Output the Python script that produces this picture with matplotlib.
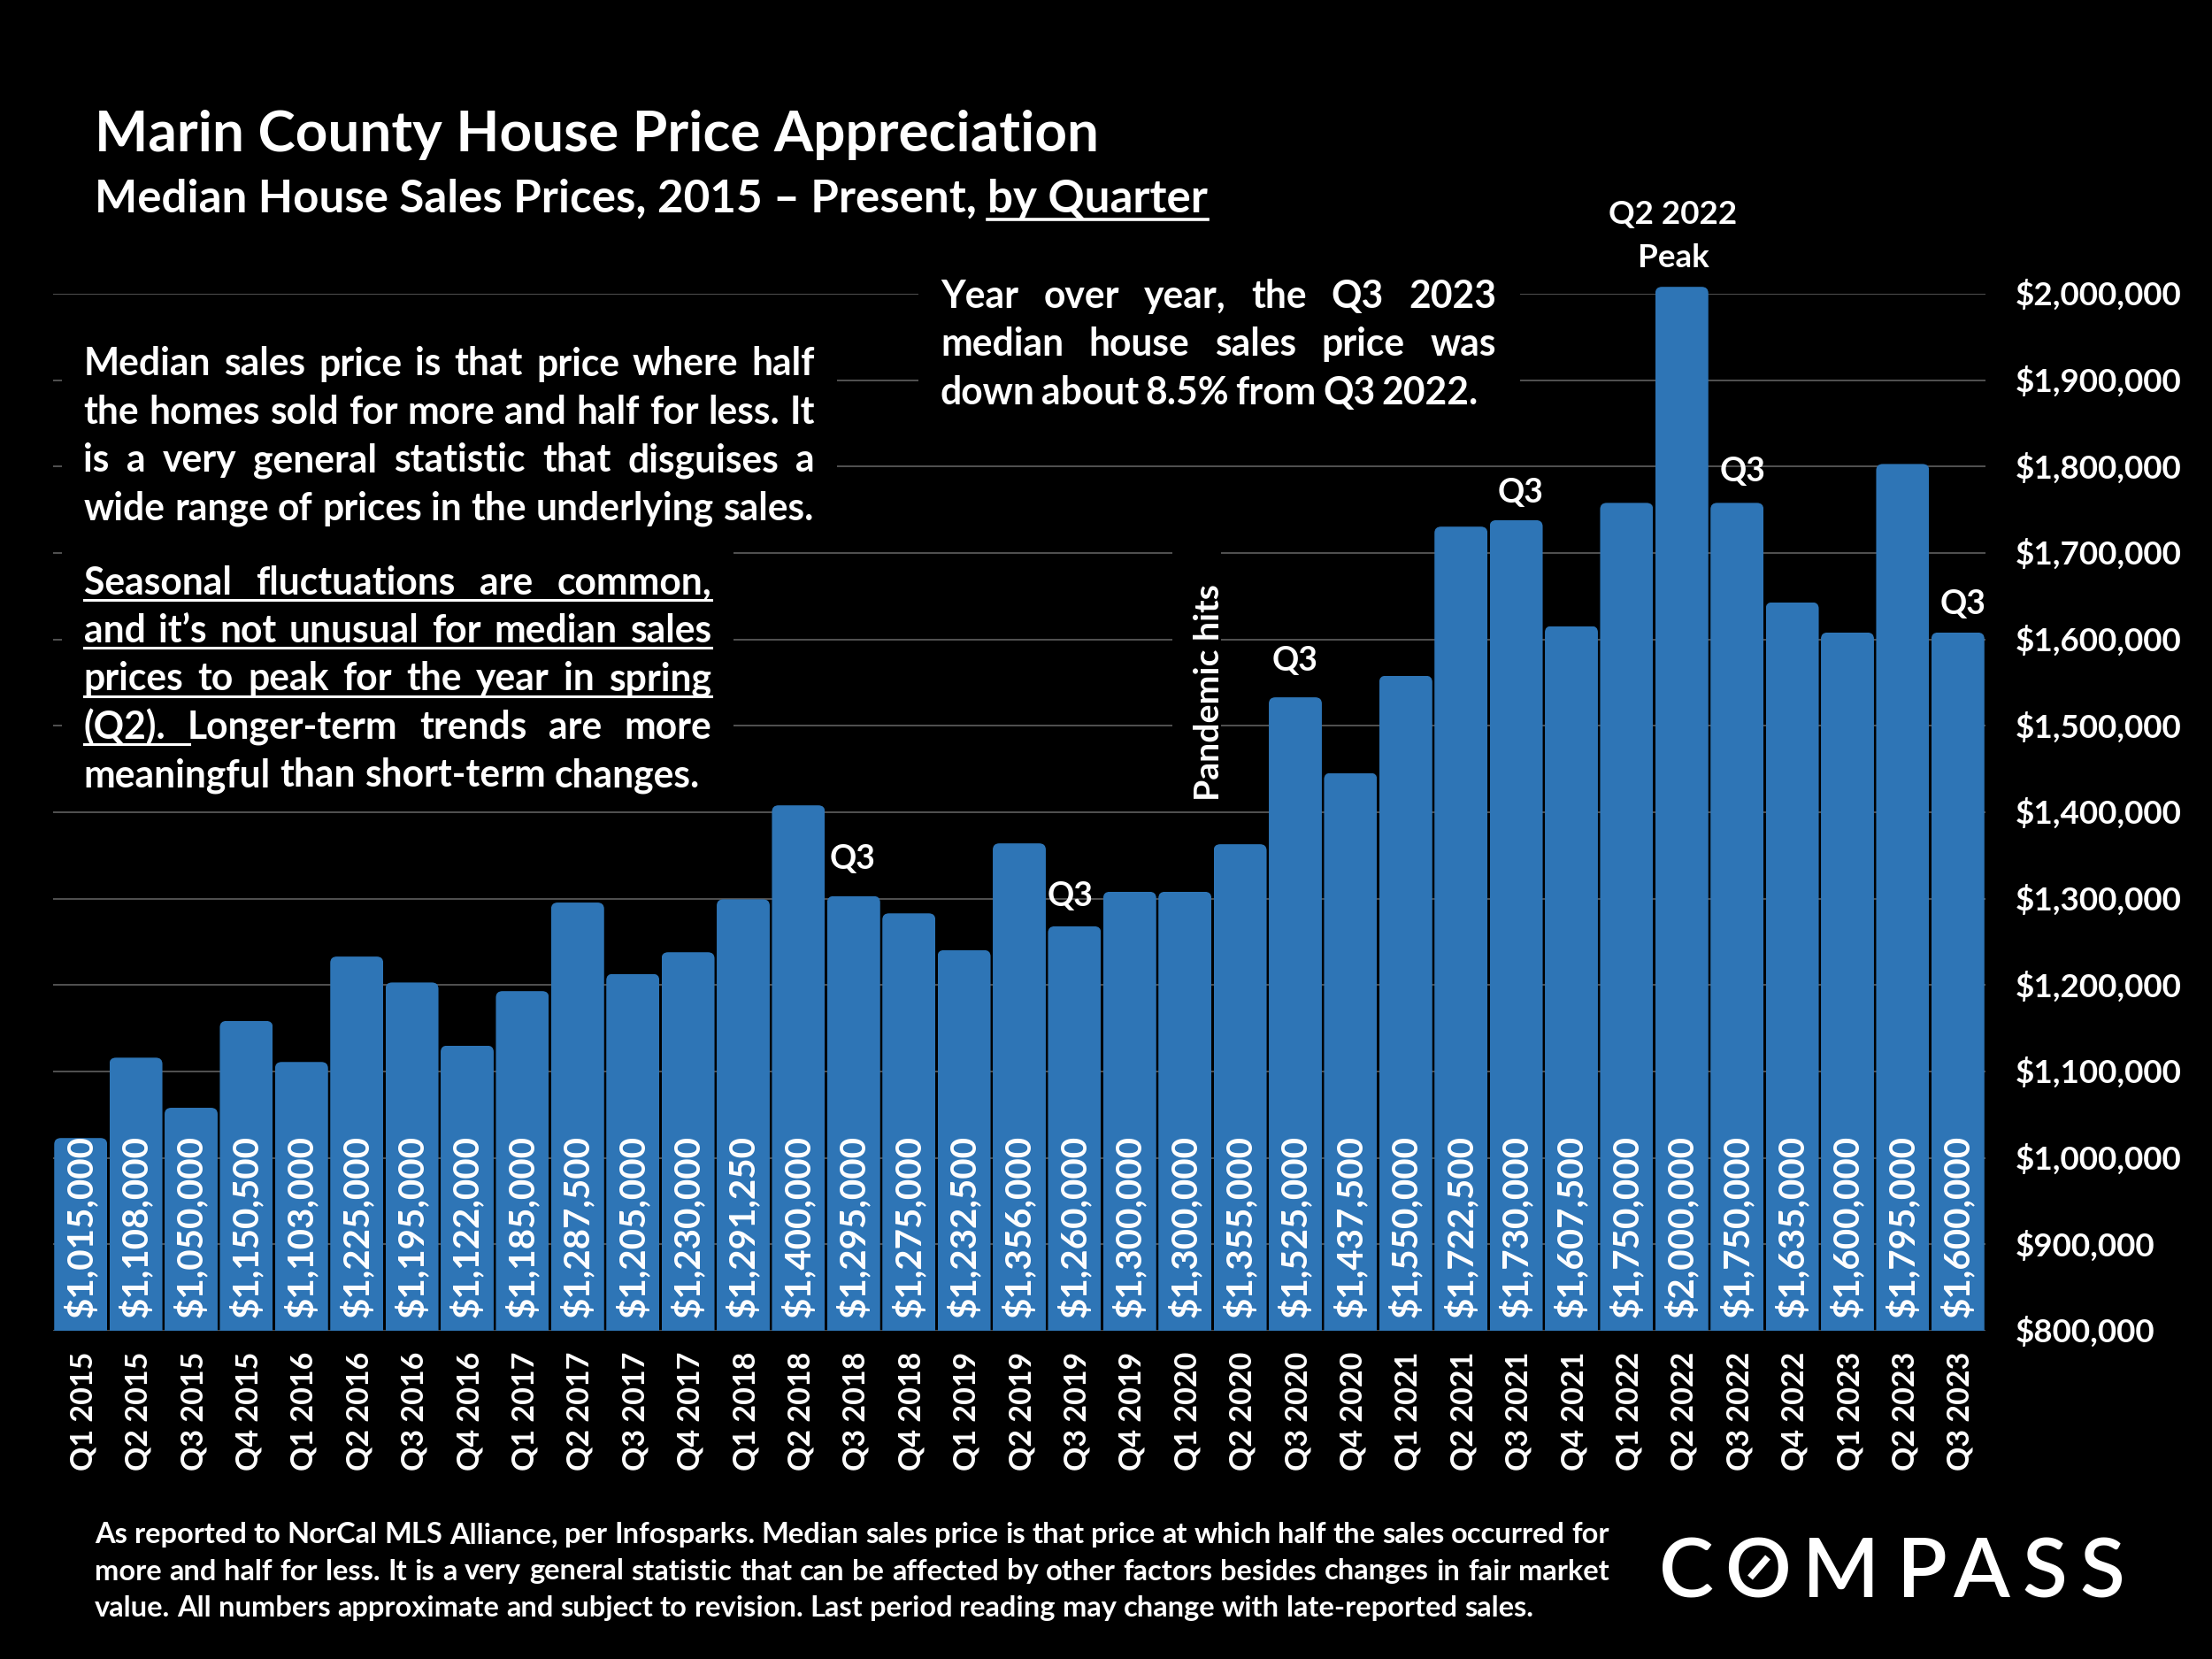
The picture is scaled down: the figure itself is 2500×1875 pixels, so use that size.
import matplotlib
matplotlib.use('Agg')
import numpy as np
import matplotlib.pyplot as plt
from matplotlib.patches import FancyBboxPatch, Rectangle
from matplotlib.transforms import Affine2D

plt.rcParams['font.family'] = ['Lato', 'DejaVu Sans']
plt.rcParams['font.weight'] = 'bold'

quarters = ['Q1 2015', 'Q2 2015', 'Q3 2015', 'Q4 2015', 'Q1 2016', 'Q2 2016', 'Q3 2016',
            'Q4 2016', 'Q1 2017', 'Q2 2017', 'Q3 2017', 'Q4 2017', 'Q1 2018', 'Q2 2018',
            'Q3 2018', 'Q4 2018', 'Q1 2019', 'Q2 2019', 'Q3 2019', 'Q4 2019', 'Q1 2020',
            'Q2 2020', 'Q3 2020', 'Q4 2020', 'Q1 2021', 'Q2 2021', 'Q3 2021', 'Q4 2021',
            'Q1 2022', 'Q2 2022', 'Q3 2022', 'Q4 2022', 'Q1 2023', 'Q2 2023', 'Q3 2023']
prices = [1015000, 1108000, 1050000, 1150500, 1103000, 1225000, 1195000,
          1122000, 1185000, 1287500, 1205000, 1230000, 1291250, 1400000,
          1295000, 1275000, 1232500, 1356000, 1260000, 1300000, 1300000,
          1355000, 1525000, 1437500, 1550000, 1722500, 1730000, 1607500,
          1750000, 2000000, 1750000, 1635000, 1600000, 1795000, 1600000]
y_ticks = list(range(800000, 2000001, 100000))
q3_notes = ['Q3 2018', 'Q3 2019', 'Q3 2020', 'Q3 2021', 'Q3 2022', 'Q3 2023']
q3_gaps = [50, 42, 49, 39, 43, 40]  # px above the bar
q3_dx = [-1, -5, 0, 5, 6, 6]

BLUE = '#2E75B6'
GRID = '#606060'
W, H = 2500, 1875

fig = plt.figure(figsize=(25, 18.75), dpi=100, facecolor='black')
x0, x1, y_bot, y_top = 60, 2244, 1504, 332
ax = fig.add_axes([x0 / W, 1 - y_bot / H, (x1 - x0) / W, (y_bot - y_top) / H], facecolor='black')
ax.set_xlim(-0.5, len(prices) - 0.5)
ax.set_ylim(800000, 2000000)
ax.set_axisbelow(True)
for s in ax.spines.values():
    s.set_visible(False)

# pixel coords of the slide, y going down
px = Affine2D().scale(1 / W, -1 / H).translate(0, 1) + fig.transFigure

# bars sit a few pixels above the gridlines in the original
overshoot = 8000
x_pos = np.arange(len(prices))
bars = ax.bar(x_pos, np.array(prices) - 800000 + overshoot, bottom=800000, width=0.96, color=BLUE, zorder=2)
for b in bars:
    clip = FancyBboxPatch((b.get_x(), b.get_y() - 100000), b.get_width(), b.get_height() + 100000,
                          boxstyle='round,pad=0,rounding_size=0.12', mutation_aspect=61000,
                          transform=ax.transData)
    b.set_clip_box(None)
    b.set_clip_path(clip)

ax.yaxis.tick_right()
ax.set_yticks(y_ticks)
ax.set_yticklabels(['${:,}'.format(v) for v in y_ticks], fontsize=26.5, color='white')
ax.set_xticks(x_pos)
ax.set_xticklabels(quarters, rotation=90, fontsize=24.5, color='white')
ax.tick_params(axis='x', length=0, pad=17)
ax.tick_params(axis='y', length=0, pad=24)
ax.grid(axis='y', color=GRID, linewidth=1.2)
for lab in ax.get_xticklabels():
    lab.set_transform(lab.get_transform() + Affine2D().translate(3, 0))
for lab in ax.get_yticklabels():
    lab.set_transform(lab.get_transform() + Affine2D().translate(0, 1.5))

for i, v in enumerate(prices):
    ax.text(i, 815000, '${:,}'.format(v), rotation=90, ha='center', va='bottom',
            color='white', fontsize=29, zorder=3)

# black boxes behind the text, they cut the gridlines
for bx0, by0, bx1, by1 in [(70, 385, 946, 600), (70, 600, 829, 910), (1038, 290, 1718, 470),
                           (1325, 610, 1380, 910)]:
    ax.add_patch(Rectangle((bx0, by0), bx1 - bx0, by1 - by0, transform=px, facecolor='black',
                           edgecolor='none', clip_on=False, zorder=1))


def word_line(line, xa, y, size, xb=None):
    # justified when xb is given, one word at a time
    words = line.split()
    r = fig.canvas.get_renderer()
    arts = [ax.text(xa, y, w, transform=px, fontsize=size, color='white', va='baseline',
                    ha='left', clip_on=False, zorder=4) for w in words]
    widths = [a.get_window_extent(r).width for a in arts]
    sp = ax.text(0, 0, 'a a', fontsize=size, transform=px)
    sp2 = ax.text(0, 0, 'aa', fontsize=size, transform=px)
    gap = sp.get_window_extent(r).width - sp2.get_window_extent(r).width
    sp.remove()
    sp2.remove()
    if xb is not None and len(words) > 1:
        gap = (xb - xa - sum(widths)) / (len(words) - 1)
    x = xa
    for a, w in zip(arts, widths):
        a.set_x(x)
        x += w + gap


def underline(xa, xb, y, lw=2.2):
    ax.plot([xa, xb], [y, y], color='white', lw=lw, transform=px, clip_on=False, zorder=4,
            scalex=False, scaley=False)


# title block
ax.text(107, 171, 'Marin County House Price Appreciation', transform=px, fontsize=46, color='white',
        va='baseline', clip_on=False)
ax.text(107, 240, 'Median House Sales Prices, 2015 \u2013 Present,', transform=px, fontsize=36.8, color='white',
        va='baseline', clip_on=False)
ax.text(1116, 240, 'by Quarter', transform=px, fontsize=36.8, color='white', va='baseline', clip_on=False)
underline(1116, 1365, 248, 2.6)

# left text boxes
SZ = 30.7
para1 = [('Median sales price is that price where half', True),
         ('the homes sold for more and half for less. It', True),
         ('is a very general statistic that disguises a', True),
         ('wide range of prices in the underlying sales.', False)]
for k, (t, just) in enumerate(para1):
    word_line(t, 94.5, 424.5 + 54.4 * k, SZ, xb=921 if just else None)

para2 = [('Seasonal fluctuations are common,', True),
         ('and it\u2019s not unusual for median sales', True),
         ('prices to peak for the year in spring', True),
         ('(Q2). Longer-term trends are more', True),
         ('meaningful than short-term changes.', False)]
for k, (t, just) in enumerate(para2):
    word_line(t, 94.5, 671.5 + 54.4 * k, SZ, xb=804 if just else None)
for k in range(3):
    underline(95, 804, 678 + 54.4 * k)
underline(95, 214, 841)

yoy = ['Year over year, the Q3 2023', 'median house sales price was', 'down about 8.5% from Q3 2022.']
yoy_right = [1691, 1691, 1671]
for k, (t, xr) in enumerate(zip(yoy, yoy_right)):
    word_line(t, 1063, 348 + 54.4 * k, SZ, xb=xr)

# annotations over the bars
for q, gap, dx in zip(q3_notes, q3_gaps, q3_dx):
    i = quarters.index(q)
    ax.annotate('Q3', xy=(i, prices[i]), xytext=(dx, gap), textcoords='offset pixels', ha='center',
                va='center', color='white', fontsize=27, annotation_clip=False, zorder=4)
ax.text(1891, 243, 'Q2 2022', transform=px, ha='center', va='center', color='white', fontsize=26.5, clip_on=False)
ax.text(1891, 292, 'Peak', transform=px, ha='center', va='center', color='white', fontsize=26.5, clip_on=False)
ax.text(1366, 783, 'Pandemic hits', transform=px, rotation=90, ha='center', va='center', color='white',
        fontsize=28.3, clip_on=False, zorder=4)

# footnote
foot = [('As reported to NorCal MLS Alliance, per Infosparks. Median sales price is that price at which half the sales occurred for', True),
        ('more and half for less. It is a very general statistic that can be affected by other factors besides changes in fair market', True),
        ('value. All numbers approximate and subject to revision. Last period reading may change with late-reported sales.', False)]
for k, (t, just) in enumerate(foot):
    word_line(t, 107, 1744 + 41.5 * k, 23.5, xb=1819 if just else None)

# logo
logo_letters = 'COMPASS'
logo_x = [1906, 1987, 2081, 2172, 2239, 2311, 2376]
for ch, lx in zip(logo_letters, logo_x):
    ax.text(lx, 1805, ch, transform=px, ha='center', va='baseline', color='white', fontsize=67,
            fontweight='semibold', clip_on=False)
ax.plot([1978, 1998], [1783, 1760], color='white', lw=5.5, transform=px, clip_on=False, zorder=4,
        solid_capstyle='butt', scalex=False, scaley=False)

fig.savefig('out.png', dpi=100, facecolor='black')
